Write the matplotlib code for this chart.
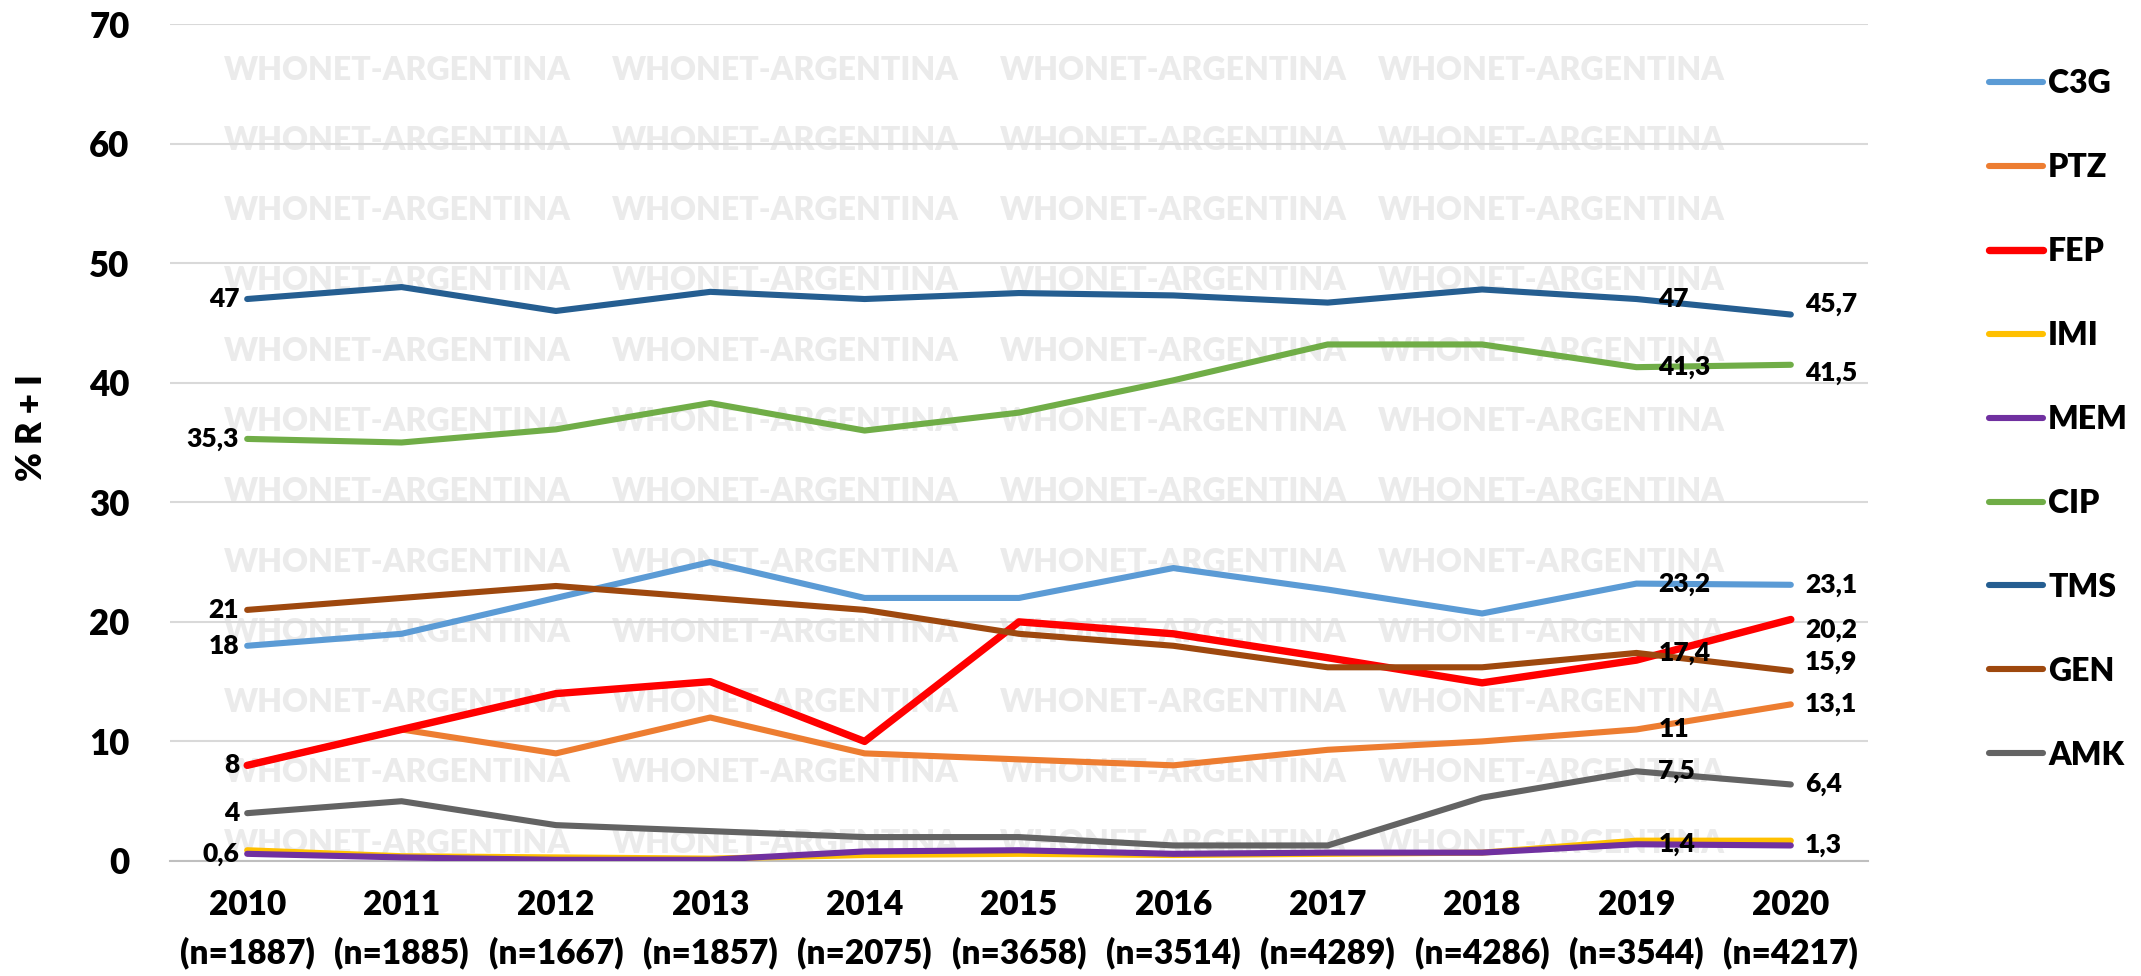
"""
Resistance trends (% R + I) 2010-2020, WHONET-Argentina style line chart.
"""

import matplotlib
matplotlib.use("Agg")
import matplotlib.pyplot as plt

years = ['2010', '2011', '2012', '2013', '2014', '2015',
         '2016', '2017', '2018', '2019', '2020']
n_isolates = [1887, 1885, 1667, 1857, 2075, 3658, 3514, 4289, 4286, 3544, 4217]

c3g = [18, 19, 22, 25, 22, 22, 24.5, 22.7, 20.7, 23.2, 23.1]
ptz = [8, 11, 9, 12, 9, 8.5, 8, 9.3, 10, 11, 13.1]
fep = [8, 11, 14, 15, 10, 20, 19, 17, 14.9, 16.8, 20.2]
imi = [0.9, 0.4, 0.3, 0.2, 0.5, 0.6, 0.5, 0.6, 0.7, 1.7, 1.7]
mem = [0.6, 0.3, 0.1, 0.1, 0.8, 0.9, 0.6, 0.7, 0.7, 1.4, 1.3]
cip = [35.3, 35, 36.1, 38.3, 36, 37.5, 40.2, 43.2, 43.2, 41.3, 41.5]
tms = [47, 48, 46, 47.6, 47, 47.5, 47.3, 46.7, 47.8, 47, 45.7]
gen = [21, 22, 23, 22, 21, 19, 18, 16.2, 16.2, 17.4, 15.9]
amk = [4, 5, 3, 2.5, 2, 2, 1.3, 1.3, 5.3, 7.5, 6.4]

series_names = ['C3G', 'PTZ', 'FEP', 'IMI', 'MEM', 'CIP', 'TMS', 'GEN', 'AMK']
series_values = [c3g, ptz, fep, imi, mem, cip, tms, gen, amk]
series_colors = ['#5B9BD5', '#ED7D31', '#FF0000', '#FFC000', '#7030A0',
                 '#70AD47', '#255E91', '#9E480E', '#636363']

# which points carry a data label
labels_first = ['TMS', 'CIP', 'GEN', 'C3G', 'FEP', 'AMK', 'MEM']
labels_2019 = ['TMS', 'CIP', 'C3G', 'GEN', 'PTZ', 'AMK', 'MEM']
labels_last = ['TMS', 'CIP', 'C3G', 'FEP', 'GEN', 'PTZ', 'AMK', 'MEM']

plt.rcParams['font.family'] = ['Lato', 'DejaVu Sans']
plt.rcParams['font.weight'] = 'heavy'

W, H = 2141, 976
fig = plt.figure(figsize=(W / 100, H / 100), dpi=100)
ax = fig.add_axes([170 / W, 1 - 861 / H, (1868 - 170) / W, (861 - 24) / H])
ax.patch.set_alpha(0)

# watermark grid, drawn inside the axes so it sits below the lines
wm_cols = [397, 785, 1173, 1551]
for row in range(12):
    for cx in wm_cols:
        ax.text(cx / W, 1 - (70 + 70.3 * row) / H, 'WHONET-ARGENTINA',
                transform=fig.transFigure, ha='center', va='center',
                fontsize=23, fontweight='heavy', color='#EBEBEB',
                zorder=0.2, clip_on=False)

x = list(range(len(years)))
lines = {}
for name, vals, col in zip(series_names, series_values, series_colors):
    lw = 5.3 if name == 'FEP' else 4.4
    ax.plot(x, vals, color=col, linewidth=lw, solid_capstyle='round',
            solid_joinstyle='round', label=name, zorder=3)
    lines[name] = vals

# data labels
lab_kw = dict(fontsize=19, fontweight='heavy', color='black',
              textcoords='offset pixels', va='center', zorder=5)
for name in labels_first:
    v = lines[name][0]
    ax.annotate(f"{v:g}".replace('.', ','), (0, v), xytext=(-8, 0),
                ha='right', **lab_kw)
for name in labels_2019:
    v = lines[name][9]
    ax.annotate(f"{v:g}".replace('.', ','), (9, v), xytext=(22, 0),
                ha='left', **lab_kw)
nudge = {'TMS': 11, 'CIP': -8, 'FEP': -11, 'GEN': 9}
for name in labels_last:
    v = lines[name][10]
    ax.annotate(f"{v:g}".replace('.', ','), (10, v),
                xytext=(14, nudge.get(name, 0)), ha='left', **lab_kw)

ax.set_xlim(-0.5, len(years) - 0.5)
ax.set_ylim(0, 70)
ax.set_yticks(range(0, 71, 10))
ax.set_xticks(x)
ax.set_xticklabels([f"{y}\n(n={n})" for y, n in zip(years, n_isolates)],
                   linespacing=1.6)
ax.grid(axis='y', color='#D9D9D9', linewidth=1.5, zorder=1)
ax.set_axisbelow(True)
for side in ['top', 'right', 'left']:
    ax.spines[side].set_visible(False)
ax.spines['bottom'].set_color('#BFBFBF')
ax.spines['bottom'].set_linewidth(1.5)
ax.tick_params(axis='y', length=0, pad=29, labelsize=25)
ax.tick_params(axis='x', length=0, pad=20, labelsize=24)

fig.text(31 / W, 1 - 428 / H, '% R + I', rotation=90, ha='center',
         va='center', fontsize=25, fontweight='heavy')

fig.legend(loc='upper left', bbox_to_anchor=(1989 / W, 1 - 69 / H),
           frameon=False, fontsize=23, handlelength=1.7, handletextpad=0.15,
           labelspacing=1.72, borderpad=0, borderaxespad=0)

fig.savefig('out.png', dpi=100)
